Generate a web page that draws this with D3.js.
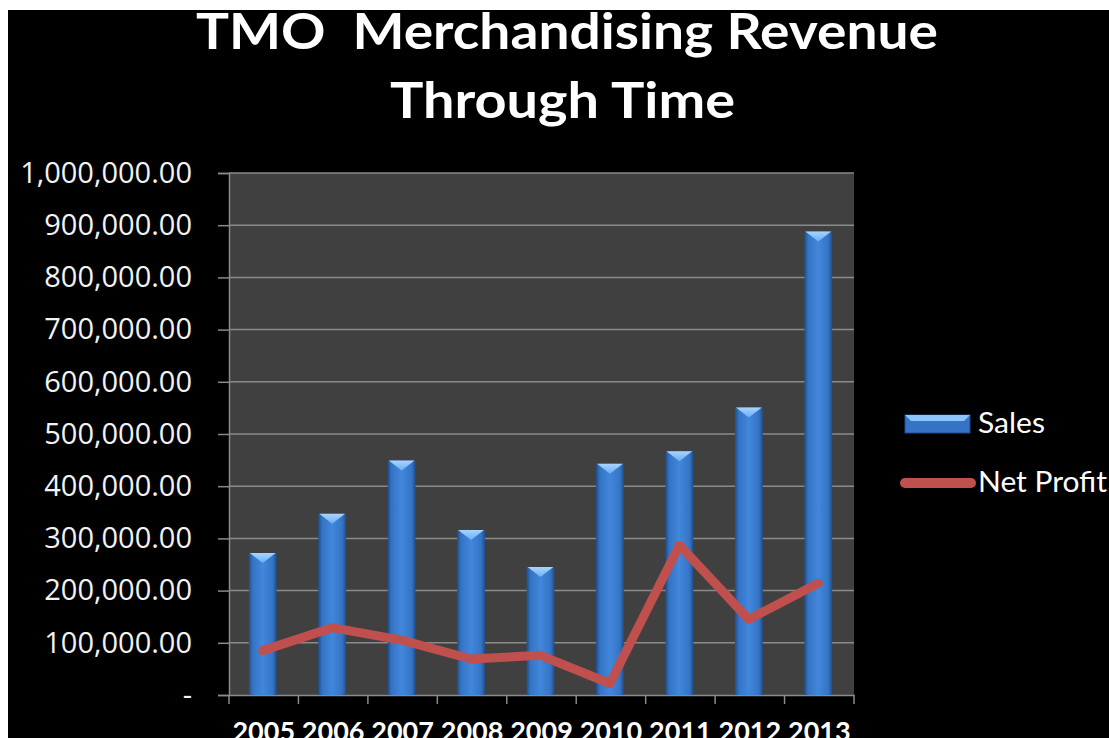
<!DOCTYPE html>
<html>
<head>
<meta charset="utf-8">
<script src="https://cdn.jsdelivr.net/npm/d3@7"></script>
<style>
  html, body { margin: 0; padding: 0; background: #fff; overflow: hidden; }
  svg { display: block; }
</style>
</head>
<body>
<svg id="chart"></svg>
<script>
// chart data
const years = ['2005', '2006', '2007', '2008', '2009', '2010', '2011', '2012', '2013'];
const sales = [272000, 347000, 449000, 316000, 245000, 443000, 467000, 551000, 888000];
const netProfit = [85000, 129000, 105000, 69000, 76000, 22000, 287000, 145000, 214000];
const yTicks = [0, 100000, 200000, 300000, 400000, 500000, 600000, 700000, 800000, 900000, 1000000];
const titleLines = ['TMO  Merchandising Revenue', 'Through Time'];
const legendNames = ['Sales', 'Net Profit'];

const width = 1109;
const height = 738;

const svg = d3.select('#chart')
    .attr('width', width)
    .attr('height', height);

// black slide background (white strip at top/left)
svg.append('rect')
    .attr('x', 8).attr('y', 10)
    .attr('width', width - 8).attr('height', height - 10)
    .attr('fill', '#000');

const plot = { left: 229, right: 854, top: 173, bottom: 695 };

const x = d3.scaleBand()
    .domain(years)
    .range([plot.left, plot.right])
    .padding(0);

const y = d3.scaleLinear()
    .domain([0, 1000000])
    .range([plot.bottom, plot.top]);

// gradients for the bevelled bars
const defs = svg.append('defs');
const barGrad = defs.append('linearGradient')
    .attr('id', 'barGrad')
    .attr('x1', '0%').attr('x2', '100%').attr('y1', '0%').attr('y2', '0%');
[['0%', '#1f4f8c'], ['14%', '#3574c4'], ['50%', '#4187dc'], ['86%', '#3574c4'], ['100%', '#1f4f8c']]
    .forEach(([o, c]) => barGrad.append('stop').attr('offset', o).attr('stop-color', c));

const capGrad = defs.append('linearGradient')
    .attr('id', 'capGrad')
    .attr('x1', '0%').attr('x2', '0%').attr('y1', '0%').attr('y2', '100%');
[['0%', '#a9d4ff'], ['100%', '#6aaef5']]
    .forEach(([o, c]) => capGrad.append('stop').attr('offset', o).attr('stop-color', c));

// plot area
svg.append('rect')
    .attr('x', plot.left).attr('y', plot.top)
    .attr('width', plot.right - plot.left)
    .attr('height', plot.bottom - plot.top)
    .attr('fill', '#404040');

// gridlines
svg.append('g')
    .selectAll('line')
    .data(yTicks.slice(1))
    .join('line')
    .attr('x1', plot.left).attr('x2', plot.right)
    .attr('y1', d => y(d)).attr('y2', d => y(d))
    .attr('stroke', '#8a8a8a')
    .attr('stroke-width', 1.5);

// y axis
const yAxis = svg.append('g')
    .attr('transform', `translate(${plot.left},0)`)
    .call(d3.axisLeft(y)
        .tickValues(yTicks)
        .tickSize(11)
        .tickPadding(26)
        .tickFormat(d => d === 0 ? '-' : d3.format(',.2f')(d)));
yAxis.select('.domain').attr('stroke', '#8a8a8a').attr('stroke-width', 1.5);
yAxis.selectAll('.tick line').attr('stroke', '#8a8a8a').attr('stroke-width', 1.5);
yAxis.selectAll('.tick text')
    .attr('fill', '#f2f2f2')
    .attr('font-family', '"Open Sans", sans-serif')
    .attr('font-size', 29);

// x axis: baseline, boundary ticks, year labels
const xAxis = svg.append('g')
    .attr('transform', `translate(0,${plot.bottom})`)
    .call(d3.axisBottom(x).tickSize(0).tickPadding(27));
xAxis.select('.domain').attr('stroke', '#8a8a8a').attr('stroke-width', 1.5);
xAxis.selectAll('.tick text')
    .attr('fill', '#fff')
    .attr('font-family', 'Lato, sans-serif')
    .attr('font-weight', 'bold')
    .attr('font-size', 27)
    .attr('dy', '0.71em');

svg.append('g')
    .selectAll('line')
    .data(d3.range(years.length + 1))
    .join('line')
    .attr('x1', i => plot.left + i * x.step())
    .attr('x2', i => plot.left + i * x.step())
    .attr('y1', plot.bottom)
    .attr('y2', plot.bottom + 9)
    .attr('stroke', '#8a8a8a')
    .attr('stroke-width', 1.5);

// bars
const barW = x.step() * 0.4;
const bars = svg.append('g')
    .selectAll('g')
    .data(years.map((yr, i) => ({ yr, v: sales[i] })))
    .join('g');

bars.append('rect')
    .attr('x', d => x(d.yr) + x.bandwidth() / 2 - barW / 2 - 1)
    .attr('y', d => y(d.v))
    .attr('width', barW)
    .attr('height', d => plot.bottom - y(d.v))
    .attr('fill', 'url(#barGrad)');

bars.append('path')
    .attr('d', d => {
        const x0 = x(d.yr) + x.bandwidth() / 2 - barW / 2 - 1;
        const t = y(d.v);
        return `M${x0 + 1},${t} L${x0 + barW - 1},${t} L${x0 + barW / 2},${t + 10} Z`;
    })
    .attr('fill', 'url(#capGrad)');

// net profit line
const line = d3.line()
    .x((d, i) => x(years[i]) + x.bandwidth() / 2 - 1)
    .y(d => y(d));

svg.append('path')
    .datum(netProfit)
    .attr('d', line)
    .attr('fill', 'none')
    .attr('stroke', '#c0504d')
    .attr('stroke-width', 9)
    .attr('stroke-linejoin', 'round')
    .attr('stroke-linecap', 'round');

// title
svg.append('g')
    .selectAll('text')
    .data(titleLines)
    .join('text')
    .attr('x', (d, i) => i === 0 ? 196 : 390)
    .attr('y', (d, i) => i === 0 ? 49 : 118)
    .attr('textLength', (d, i) => i === 0 ? 742 : 345)
    .attr('lengthAdjust', 'spacingAndGlyphs')
    .style('white-space', 'pre')
    .attr('fill', '#fff')
    .attr('font-family', 'Lato, sans-serif')
    .attr('font-weight', 'bold')
    .attr('font-size', 49)
    .text(d => d);

// legend
const legend = svg.append('g');
legend.append('rect')
    .attr('x', 905).attr('y', 415)
    .attr('width', 65).attr('height', 18)
    .attr('fill', '#3574c4')
    .attr('stroke', '#1f4f8c');
legend.append('path')
    .attr('d', 'M905,415 L970,415 L964,421 L911,421 Z')
    .attr('fill', '#8cc4ff');
legend.append('line')
    .attr('x1', 905).attr('x2', 971)
    .attr('y1', 483).attr('y2', 483)
    .attr('stroke', '#c0504d')
    .attr('stroke-width', 10)
    .attr('stroke-linecap', 'round');
legend.selectAll('text')
    .data(legendNames)
    .join('text')
    .attr('x', 978)
    .attr('y', (d, i) => i === 0 ? 433 : 492)
    .attr('textLength', (d, i) => i === 0 ? 67 : 129)
    .attr('lengthAdjust', 'spacingAndGlyphs')
    .attr('fill', '#fff')
    .attr('font-family', 'Lato, sans-serif')
    .attr('font-size', 28)
    .text(d => d);
</script>
</body>
</html>
